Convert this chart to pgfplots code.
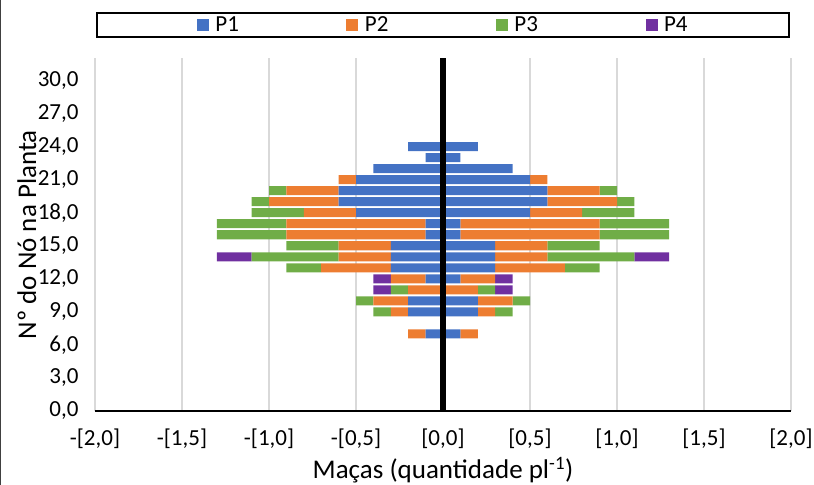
\documentclass[border=0pt]{standalone}
\usepackage{fontspec}
\setmainfont{Carlito}
\usepackage{pgfplots}
\usepackage{pgfplotstable}
\pgfplotsset{compat=1.18}
\definecolor{cPa}{HTML}{4472C4}
\definecolor{cPb}{HTML}{ED7D31}
\definecolor{cPc}{HTML}{70AD47}
\definecolor{cPd}{HTML}{7030A0}
\definecolor{gridgray}{HTML}{D9D9D9}

% right side (positive)
\pgfplotstableread{
y  p1  p2  p3  p4
7  0.1 0.1 0   0
9  0.2 0.1 0.1 0
10 0.2 0.2 0.1 0
11 0   0.2 0.1 0.1
12 0.1 0.2 0   0.1
13 0.3 0.4 0.2 0
14 0.3 0.3 0.5 0.2
15 0.3 0.3 0.3 0
16 0.1 0.8 0.4 0
17 0.1 0.8 0.4 0
18 0.5 0.3 0.3 0
19 0.6 0.4 0.1 0
20 0.6 0.3 0.1 0
21 0.5 0.1 0   0
22 0.4 0   0   0
23 0.1 0   0   0
24 0.2 0   0   0
}\rightdata

% left side (negative)
\pgfplotstableread{
y  p1   p2   p3   p4
7  -0.1 -0.1 0    0
9  -0.2 -0.1 -0.1 0
10 -0.2 -0.2 -0.1 0
11 0    -0.2 -0.1 -0.1
12 -0.1 -0.2 0    -0.1
13 -0.3 -0.4 -0.2 0
14 -0.3 -0.3 -0.5 -0.2
15 -0.3 -0.3 -0.3 0
16 -0.1 -0.8 -0.4 0
17 -0.1 -0.8 -0.4 0
18 -0.5 -0.3 -0.3 0
19 -0.6 -0.4 -0.1 0
20 -0.6 -0.3 -0.1 0
21 -0.5 -0.1 0    0
22 -0.4 0    0    0
23 -0.1 0    0    0
24 -0.2 0    0    0
}\leftdata

\pgfplotsset{
  basechart/.style={
    scale only axis,
    width=696bp, height=352.5bp,
    at={(95bp,74bp)}, anchor=south west,
    xmin=-2, xmax=2, ymin=0, ymax=32,
    xbar stacked, bar width=0.82,
  },
}

\begin{document}
\begin{tikzpicture}
\useasboundingbox (0,0) rectangle (814bp,485bp);
\draw[black!75, line width=1bp] (0.5bp,0) -- (0.5bp,485bp);

\begin{axis}[
  basechart,
  axis x line*=bottom, axis y line*=left,
  axis line style={-},
  x axis line style={black, line width=2.5bp},
  y axis line style={draw=none},
  major tick length=0pt,
  xtick={-2,-1.5,-1,-0.5,0,0.5,1,1.5,2},
  xticklabels={{-[2,0]},{-[1,5]},{-[1,0]},{-[0,5]},{[0,0]},{[0,5]},{[1,0]},{[1,5]},{[2,0]}},
  ytick={0,3,...,30},
  /pgf/number format/assume math mode=true,
  yticklabel style={/pgf/number format/fixed, /pgf/number format/fixed zerofill,
    /pgf/number format/precision=1, /pgf/number format/use comma, xshift=-13bp},
  xticklabel style={yshift=-14bp},
  tick label style={font=\fontsize{23bp}{27bp}\selectfont, text=black},
  xmajorgrids, major grid style={gridgray, line width=1.3bp},
  xlabel={Maças (quantidade pl\textsuperscript{-1})},
  ylabel={Nº do Nó na Planta},
  label style={font=\fontsize{27bp}{32bp}\selectfont},
  xlabel style={at={(axis description cs:0.5,-0.168)}, anchor=center},
  ylabel style={at={(axis description cs:-0.098,0.5)}, anchor=center},
  legend columns=4,
  legend image code/.code={\fill[#1] (0bp,-6bp) rectangle (12bp,6bp);},
  legend style={at={(0.5,1)}, anchor=south, yshift=20.5bp,
    draw=black, line width=1.7bp,
    font=\fontsize{23bp}{27bp}\selectfont,
    inner xsep=100bp, inner ysep=2.5bp,
    nodes={inner sep=1.5bp},
    /tikz/every odd column/.append style={column sep=5bp},
    /tikz/every even column/.append style={column sep=106bp}},
]
\addplot[fill=cPa, draw=none] table[x=p1, y=y] {\rightdata};
\addplot[fill=cPb, draw=none] table[x=p2, y=y] {\rightdata};
\addplot[fill=cPc, draw=none] table[x=p3, y=y] {\rightdata};
\addplot[fill=cPd, draw=none] table[x=p4, y=y] {\rightdata};
\legend{P1,P2,P3,P4}
\end{axis}

\begin{axis}[
  basechart,
  axis line style={draw=none},
  xtick=\empty, ytick=\empty,
  major tick length=0pt,
  extra x ticks={0}, extra x tick labels={},
  extra x tick style={grid=major, major grid style={black, line width=6.5bp}},
  axis on top,
]
\addplot[fill=cPa, draw=none] table[x=p1, y=y] {\leftdata};
\addplot[fill=cPb, draw=none] table[x=p2, y=y] {\leftdata};
\addplot[fill=cPc, draw=none] table[x=p3, y=y] {\leftdata};
\addplot[fill=cPd, draw=none] table[x=p4, y=y] {\leftdata};
\end{axis}
\end{tikzpicture}
\end{document}
